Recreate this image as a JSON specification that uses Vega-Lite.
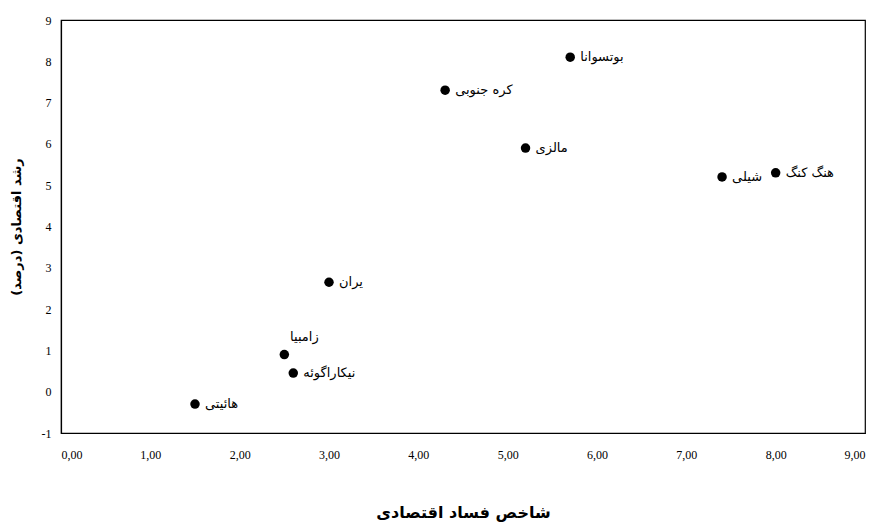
{
  "$schema": "https://vega.github.io/schema/vega-lite/v6.json",
  "width": 804,
  "height": 413,
  "autosize": {"type": "none"},
  "padding": {"left": 61, "top": 20, "right": 14, "bottom": 98},
  "background": "white",
  "config": {
    "view": {"stroke": "black", "strokeWidth": 1.2},
    "axis": {"grid": false, "domainColor": "black", "domainWidth": 1.2, "ticks": false, "labelColor": "black", "titleColor": "black", "labelFont": "Liberation Serif", "titleFont": "DejaVu Sans"}
  },
  "data": {
    "values": [
      {"country": "هائیتی", "corruption": 1.5, "growth": -0.3},
      {"country": "زامبیا", "corruption": 2.5, "growth": 0.9},
      {"country": "نیکاراگوئه", "corruption": 2.6, "growth": 0.45},
      {"country": "یران", "corruption": 3.0, "growth": 2.65},
      {"country": "کره جنوبی", "corruption": 4.3, "growth": 7.3},
      {"country": "مالزی", "corruption": 5.2, "growth": 5.9},
      {"country": "بوتسوانا", "corruption": 5.7, "growth": 8.1},
      {"country": "شیلی", "corruption": 7.4, "growth": 5.2},
      {"country": "هنگ کنگ", "corruption": 8.0, "growth": 5.3}
    ]
  },
  "encoding": {
    "x": {
      "field": "corruption", "type": "quantitative",
      "scale": {"domain": [0, 9], "nice": false, "zero": false},
      "axis": {"values": [0,1,2,3,4,5,6,7,8,9], "labelExpr": "replace(format(datum.value, '.2f'), '.', ',')", "labelFontSize": 12, "labelPadding": 16, "title": "شاخص فساد اقتصادی", "titleFontSize": 16, "titleFontWeight": "bold", "titlePadding": 44}
    },
    "y": {
      "field": "growth", "type": "quantitative",
      "scale": {"domain": [-1, 9], "nice": false, "zero": false},
      "axis": {"values": [-1,0,1,2,3,4,5,6,7,8,9], "labelExpr": "toString(datum.value)", "labelFontSize": 12, "labelPadding": 10, "title": "رشد اقتصادی (درصد)", "titleFontSize": 13, "titleFontWeight": "bold", "titlePadding": 18}
    }
  },
  "layer": [
    {
      "mark": {"type": "circle", "size": 90, "color": "black", "opacity": 1}
    },
    {
      "transform": [{"filter": "datum.country != 'زامبیا'"}],
      "mark": {"type": "text", "align": "left", "baseline": "middle", "dx": 10, "fontSize": 13, "font": "DejaVu Sans", "color": "black"},
      "encoding": {"text": {"field": "country"}}
    },
    {
      "transform": [{"filter": "datum.country == 'زامبیا'"}],
      "mark": {"type": "text", "align": "center", "baseline": "middle", "dx": 20, "dy": -18, "fontSize": 13, "font": "DejaVu Sans", "color": "black"},
      "encoding": {"text": {"field": "country"}}
    }
  ]
}
